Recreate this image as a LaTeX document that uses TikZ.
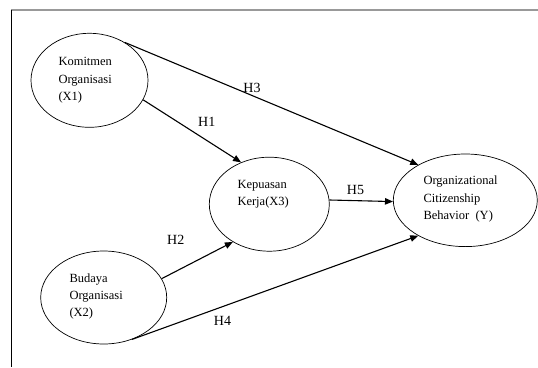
\documentclass[tikz,border=0pt]{standalone}
\usepackage{fontspec}
\setmainfont{Liberation Serif}
\usetikzlibrary{shapes.geometric,arrows.meta}
\begin{document}
\begin{tikzpicture}[x=1pt,y=-1pt,
  var/.style={draw,ellipse,line width=0.7pt,inner sep=0pt},
  vartext/.style={anchor=base west,align=left,inner sep=0pt,
    font=\fontsize{12.5}{17.3}\selectfont},
  hyp/.style={anchor=base,inner sep=0pt,font=\fontsize{14}{16}\selectfont},
  link/.style={line width=1.1pt,-{Triangle[length=8pt,width=6.5pt]}}]
  \useasboundingbox (0,0) rectangle (538,367);
  \draw[line width=1.5pt,black!40] (11,10) -- (538,10);
  \draw[line width=0.8pt] (11.7,10) -- (11.7,367);
  \node[var,minimum width=117pt,minimum height=94pt] (kom) at (89.5,80.3) {};
  \node[var,minimum width=126pt,minimum height=93pt] (bud) at (103.7,297.5) {};
  \node[var,minimum width=120pt,minimum height=94pt] (kep) at (269.3,204.2) {};
  \node[var,minimum width=144pt,minimum height=92.6pt] (ocb) at (465.3,200.3) {};
  \node[vartext] (komtext) at (58.3,100.3) {Komitmen\\Organisasi\\(X1)};
  \node[vartext] (budtext) at (69.3,316.9) {Budaya\\Organisasi\\(X2)};
  \node[vartext] (keptext) at (237.3,205.5) {Kepuasan\\Kerja(X3)};
  \node[vartext] (ocbtext) at (423.3,219.5) {Organizational\\Citizenship\\Behavior\ \ (Y)};
  \draw[link] (kom.-20.7) -- (kep.124.5);
  \draw[link] (bud.18.1) -- (kep.-134.3);
  \draw[link] (kom.47.4) -- (ocb.143.7);
  \draw[link] (bud.-56.2) -- (ocb.-143.2);
  \draw[link] (kep.4.7) -- (ocb.181.1);
  \node[hyp] (h1) at (206.8,126) {H1};
  \node[hyp] (h2) at (175.8,244.3) {H2};
  \node[hyp] (h3) at (252,92.3) {H3};
  \node[hyp] (h4) at (222.5,325.7) {H4};
  \node[hyp] (h5) at (355.5,194) {H5};
\end{tikzpicture}
\end{document}
